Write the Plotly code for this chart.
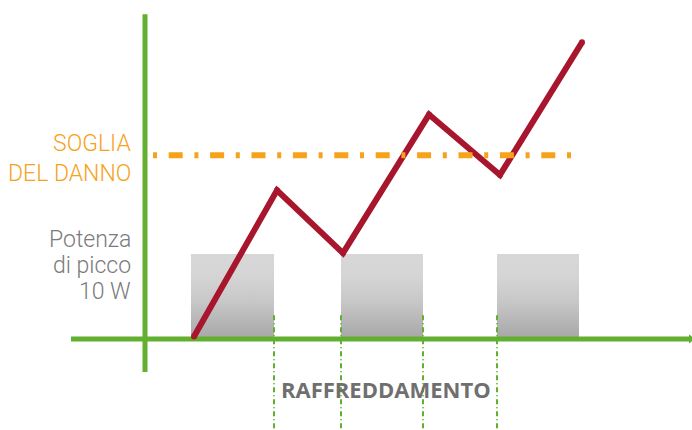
import plotly.graph_objects as go

# --- data -----------------------------------------------------------------
# time axis in arbitrary units, vertical axis in arbitrary temperature/power units
time_points = [4.9, 13.2, 19.8, 28.4, 35.5, 43.7]
temperature = [0.3, 17.5, 10.1, 26.4, 19.3, 34.9]

pulse_start = [4.6, 19.6, 35.2]
pulse_end = [12.9, 27.8, 43.4]
peak_power = [10, 10, 10]

damage_threshold = 21.6
threshold_span = [0.8, 42.6]

y_axis_span = [-3.9, 38.2]
x_axis_span = [-7.4, 54.6]
cooling_span = [2.8, -10.6]

label_threshold = ["SOGLIA", "DEL DANNO"]
label_power = ["Potenza", "di picco", "10 W"]
label_cooling = "RAFFREDDAMENTO"

GREEN = "#62b030"
RED = "#a8162e"
ORANGE = "#f7a21b"
GREY_TEXT = "#7b7b7b"

fig = go.Figure()

# peak-power pulses, shaded with a vertical gradient
for s, e, p in zip(pulse_start, pulse_end, peak_power):
    fig.add_trace(go.Scatter(
        x=[s, e, e, s, s], y=[0, 0, p, p, 0],
        mode="lines", line=dict(width=0), fill="toself",
        fillgradient=dict(type="vertical",
                          colorscale=[[0, "#a7a7a7"], [0.45, "#c8c8c8"], [0.75, "#d5d5d5"], [1, "#d7d7d7"]]),
        hoverinfo="skip", showlegend=False))

# cooling intervals: dash-dot markers at the pulse edges
cooling_x = []
for i in range(len(pulse_start) - 1):
    cooling_x += [pulse_end[i], pulse_start[i + 1]]
for cx in cooling_x:
    fig.add_trace(go.Scatter(
        x=[cx, cx], y=cooling_span, mode="lines",
        line=dict(color=GREEN, width=2, dash="5px,3px,1px,3px"),
        hoverinfo="skip", showlegend=False))

# axes
fig.add_trace(go.Scatter(x=[0, 0], y=y_axis_span, mode="lines",
                         line=dict(color=GREEN, width=5), hoverinfo="skip", showlegend=False))
fig.add_trace(go.Scatter(x=x_axis_span, y=[0, 0], mode="lines",
                         line=dict(color=GREEN, width=5), hoverinfo="skip", showlegend=False))
fig.add_trace(go.Scatter(x=[x_axis_span[1]], y=[0], mode="markers",
                         marker=dict(symbol="triangle-right", size=8, color=GREEN),
                         hoverinfo="skip", showlegend=False))

# temperature curve
fig.add_trace(go.Scatter(x=time_points, y=temperature, mode="lines+markers",
                         line=dict(color=RED, width=6),
                         marker=dict(size=6, color=RED),
                         hoverinfo="skip", showlegend=False))

# damage threshold
fig.add_trace(go.Scatter(x=threshold_span, y=[damage_threshold] * 2, mode="lines",
                         line=dict(color=ORANGE, width=6, dash="4px,11.7px,14px,11.7px"),
                         hoverinfo="skip", showlegend=False))

font_family = "Roboto"
annotations = []
for txt, yy in zip(label_threshold, [23.0, 19.5]):
    annotations.append(dict(x=-1.2, y=yy, text=txt, showarrow=False, xanchor="right", yanchor="middle",
                            font=dict(family=font_family, size=23, color=ORANGE, weight=300)))
for txt, yy in zip(label_power, [11.65, 8.6, 5.6]):
    annotations.append(dict(x=-1.2, y=yy, text=txt, showarrow=False, xanchor="right", yanchor="middle",
                            font=dict(family=font_family, size=23, color=GREY_TEXT, weight=300)))
annotations.append(dict(x=24.05, y=-5.9, text=label_cooling, showarrow=False, xanchor="center",
                        yanchor="middle",
                        font=dict(family="Open Sans", size=22, color="#6f6f6f", weight=700)))

fig.update_layout(
    width=692, height=430,
    margin=dict(l=0, r=0, t=0, b=0),
    paper_bgcolor="white", plot_bgcolor="white",
    xaxis=dict(range=[-14.5, 54.7], visible=False, fixedrange=True),
    yaxis=dict(range=[-10.71, 39.88], visible=False, fixedrange=True),
    annotations=annotations,
    showlegend=False,
)

fig.write_html("out.html")
